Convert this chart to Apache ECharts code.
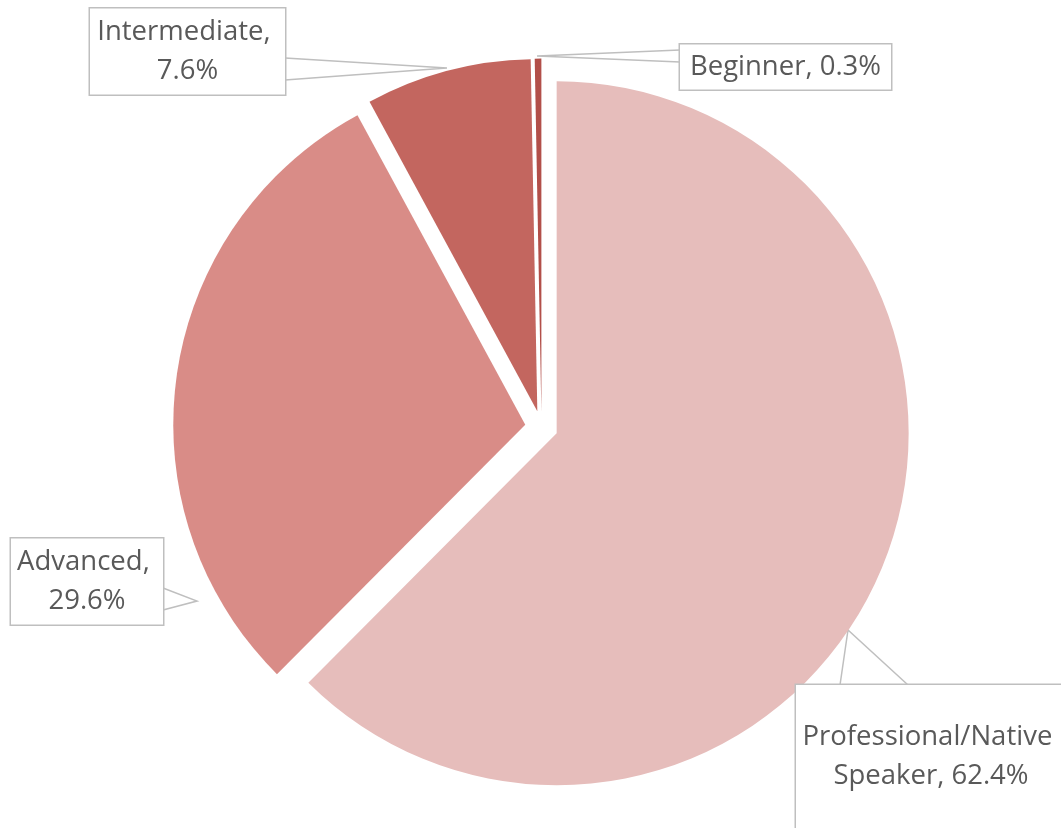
<!DOCTYPE html>
<html>
<head>
<meta charset="utf-8">
<script src="https://cdn.jsdelivr.net/npm/echarts@6/dist/echarts.min.js"></script>
<style>
  html, body { margin: 0; padding: 0; background: #ffffff; }
  #chart { width: 1061px; height: 828px; }
</style>
</head>
<body>
<div id="chart"></div>
<script>
// ---- data ----
const categories = ['Professional/Native Speaker', 'Advanced', 'Intermediate', 'Beginner'];
const shares = [62.4, 29.6, 7.6, 0.3];
const sliceColors = ['#E6BDBB', '#D98C87', '#C3665F', '#B24F49'];

// ---- layout (not data) ----
const pieCenter = [541.5, 427];
const pieRadius = 352;
const explode = 16.4;
const calloutLayout = {
  'Professional/Native Speaker': { cx: 931, cy: 757, w: 260, pad: [33, 5], line: [[840, 685], [848, 630], [908, 685]] },
  'Advanced': { cx: 87, cy: 581.5, w: 142, pad: [4, 5], line: [[163, 588], [197, 601], [163, 610]] },
  'Intermediate': { cx: 187.5, cy: 51.5, w: 185, pad: [4, 5], line: [[285, 58], [447, 68], [285, 80]] },
  'Beginner': { cx: 785.5, cy: 67, w: 201, pad: [3, 5], line: [[680, 50], [537, 56], [680, 62]] }
};

const total = shares.reduce((a, b) => a + b, 0);
let cum = 0;
const midAngles = shares.map(v => { const m = (cum + v / 2) / total * 2 * Math.PI; cum += v; return m; });

const chart = echarts.init(document.getElementById('chart'), null, { renderer: 'canvas' });

// one series per exploded slice: each draws only its own slice, shifted outward
const series = categories.map((cat, i) => ({
  type: 'pie',
  silent: true,
  center: [pieCenter[0] + explode * Math.sin(midAngles[i]), pieCenter[1] - explode * Math.cos(midAngles[i])],
  radius: pieRadius,
  startAngle: 90,
  clockwise: true,
  avoidLabelOverlap: false,
  emphasis: { disabled: true },
  data: categories.map((name, j) => ({
    name: name,
    value: shares[j],
    itemStyle: { color: j === i ? sliceColors[j] : 'rgba(0,0,0,0)' },
    label: j === i
      ? { show: true, width: calloutLayout[name].w, padding: calloutLayout[name].pad }
      : { show: false },
    labelLine: { show: j === i }
  })),
  label: {
    position: 'outside',
    formatter: (p) => p.name + ', ' + p.value.toFixed(1) + '%',
    fontFamily: 'Open Sans',
    fontSize: 27.5,
    lineHeight: 39,
    color: '#595959',
    overflow: 'break',
    align: 'center',
    backgroundColor: '#ffffff',
    borderColor: '#BFBFBF',
    borderWidth: 1.5
  },
  labelLine: {
    smooth: false,
    lineStyle: { color: '#BFBFBF', width: 1.5 }
  },
  labelLayout: function (params) {
    const c = calloutLayout[categories[params.dataIndex]];
    return {
      x: c.cx,
      y: c.cy,
      align: 'center',
      verticalAlign: 'middle',
      labelLinePoints: c.line
    };
  }
}));

chart.setOption({
  animation: false,
  backgroundColor: '#ffffff',
  series: series
});
</script>
</body>
</html>
